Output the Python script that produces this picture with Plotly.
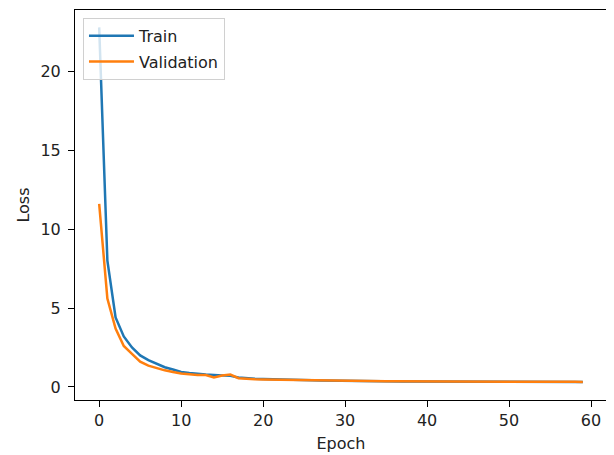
import plotly.graph_objects as go

epochs = list(range(60))
train_loss = [22.8, 8.0, 4.4, 3.2, 2.5, 2.0, 1.7, 1.45, 1.25, 1.1,
              0.95, 0.88, 0.82, 0.78, 0.75, 0.72, 0.70, 0.60, 0.55, 0.52,
              0.50, 0.48, 0.46, 0.45, 0.44, 0.43, 0.42, 0.41, 0.40, 0.39,
              0.38, 0.38, 0.37, 0.37, 0.36, 0.36, 0.36, 0.35, 0.35, 0.35,
              0.35, 0.34, 0.34, 0.34, 0.34, 0.33, 0.33, 0.33, 0.33, 0.33,
              0.33, 0.32, 0.32, 0.32, 0.32, 0.32, 0.32, 0.31, 0.31, 0.31]
val_loss = [11.6, 5.6, 3.7, 2.6, 2.1, 1.6, 1.35, 1.2, 1.05, 0.95,
            0.85, 0.80, 0.75, 0.75, 0.60, 0.72, 0.78, 0.55, 0.50, 0.48,
            0.47, 0.46, 0.45, 0.44, 0.43, 0.42, 0.42, 0.41, 0.40, 0.39,
            0.38, 0.37, 0.37, 0.37, 0.36, 0.36, 0.36, 0.36, 0.35, 0.35,
            0.35, 0.35, 0.34, 0.34, 0.34, 0.34, 0.34, 0.33, 0.33, 0.33,
            0.33, 0.33, 0.33, 0.33, 0.32, 0.32, 0.32, 0.32, 0.32, 0.31]
x_ticks = [0, 10, 20, 30, 40, 50, 60]
y_ticks = [0, 5, 10, 15, 20]

FONT = dict(family="DejaVu Sans", size=16, color="#222")

fig = go.Figure()
fig.add_trace(go.Scatter(x=epochs, y=train_loss, mode="lines", name="Train",
                         legendgroup="a",
                         line=dict(color="#1f77b4", width=2.5)))
fig.add_trace(go.Scatter(x=epochs, y=val_loss, mode="lines", name="Validation",
                         legendgroup="b",
                         line=dict(color="#ff7f0e", width=2.5)))

axis_common = dict(showgrid=False, zeroline=False, showline=True, linecolor="black",
                   linewidth=1, mirror=True, ticks="outside", ticklen=6, tickwidth=1,
                   tickcolor="black", automargin=False, tickfont=FONT)

# page body has an 8px margin; compensate so the frame lands at 75..607 x 10..400
fig.update_layout(
    width=606, height=447,
    margin=dict(l=67, r=7, t=2, b=55, autoexpand=False),
    paper_bgcolor="white", plot_bgcolor="white",
    font=FONT,
    xaxis=dict(range=[-2.95, 61.95], tickvals=x_ticks,
               title=dict(text="Epoch", standoff=8, font=FONT),
               **axis_common),
    yaxis=dict(range=[-0.83, 23.9], tickvals=y_ticks, ticklabelstandoff=4,
               title=dict(text="Loss", standoff=6, font=FONT),
               **axis_common),
    legend=dict(x=0.015, y=0.98, xanchor="left", yanchor="top",
                bgcolor="rgba(255,255,255,0.8)", bordercolor="#d0d0d0", borderwidth=1,
                font=FONT, itemwidth=45, tracegroupgap=2),
    showlegend=True,
)

fig.write_html("out.html")
